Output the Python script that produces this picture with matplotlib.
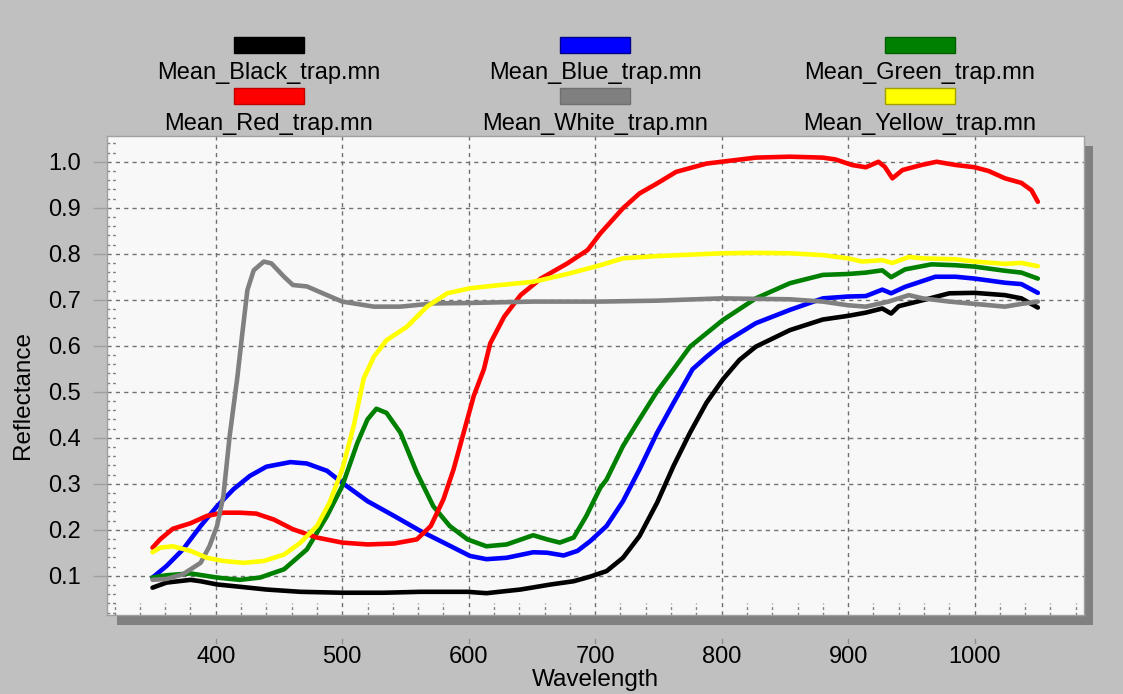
import matplotlib
matplotlib.use("Agg")
import matplotlib.pyplot as plt
from matplotlib.patches import Rectangle
from matplotlib.transforms import blended_transform_factory
import numpy as np

plt.rcParams['font.family'] = ['Liberation Sans', 'DejaVu Sans']

# ---------------- data ----------------
series_names = ["Mean_Black_trap.mn", "Mean_Blue_trap.mn", "Mean_Green_trap.mn",
                "Mean_Red_trap.mn", "Mean_White_trap.mn", "Mean_Yellow_trap.mn"]
series_colors = ["#000000", "#0000ff", "#008000", "#ff0000", "#808080", "#ffff00"]
swatch_edges = ["#000000", "#00008b", "#006000", "#c00000", "#707070", "#a0a000"]

black_wl = [350, 361, 380, 388, 401, 419, 440, 467, 500, 533, 562, 599, 614, 641, 665, 683, 696, 709,
            722, 735, 749, 762, 775, 788, 801, 814, 827, 854, 880, 900, 914, 927, 934, 940, 959, 980,
            1000, 1024, 1037, 1050]
black_r = [0.074, 0.085, 0.091, 0.088, 0.081, 0.076, 0.070, 0.065, 0.063, 0.063, 0.065, 0.065, 0.062,
           0.070, 0.081, 0.088, 0.098, 0.110, 0.139, 0.186, 0.259, 0.339, 0.411, 0.476, 0.527, 0.569,
           0.598, 0.634, 0.657, 0.665, 0.672, 0.681, 0.670, 0.686, 0.699, 0.714, 0.715, 0.710, 0.703,
           0.683]

blue_wl = [350, 361, 374, 388, 401, 414, 427, 440, 459, 472, 488, 500, 520, 541, 562, 583, 601, 614,
           630, 651, 662, 675, 686, 696, 709, 722, 735, 749, 762, 777, 788, 801, 827, 854, 880, 900,
           914, 927, 934, 945, 969, 985, 1000, 1024, 1037, 1050]
blue_r = [0.096, 0.121, 0.157, 0.208, 0.251, 0.288, 0.317, 0.337, 0.347, 0.344, 0.328, 0.302, 0.262,
          0.230, 0.197, 0.168, 0.143, 0.136, 0.139, 0.151, 0.150, 0.144, 0.154, 0.175, 0.208, 0.262,
          0.331, 0.411, 0.476, 0.549, 0.576, 0.605, 0.649, 0.678, 0.703, 0.707, 0.708, 0.722, 0.714,
          0.728, 0.750, 0.750, 0.746, 0.737, 0.734, 0.715]

green_wl = [350, 361, 380, 401, 419, 435, 454, 472, 488, 500, 512, 520, 527, 535, 546, 559, 572, 585,
            599, 614, 630, 651, 662, 672, 683, 693, 704, 709, 722, 735, 749, 762, 775, 801, 827, 854,
            880, 900, 914, 927, 934, 945, 966, 985, 1000, 1024, 1037, 1050]
green_r = [0.096, 0.101, 0.105, 0.096, 0.091, 0.096, 0.114, 0.157, 0.230, 0.295, 0.389, 0.440, 0.463,
           0.454, 0.411, 0.324, 0.251, 0.208, 0.179, 0.164, 0.168, 0.188, 0.179, 0.172, 0.183, 0.230,
           0.291, 0.309, 0.382, 0.440, 0.501, 0.549, 0.598, 0.656, 0.703, 0.736, 0.754, 0.756, 0.759,
           0.764, 0.749, 0.766, 0.777, 0.775, 0.772, 0.763, 0.759, 0.746]

red_wl = [350, 356, 366, 380, 393, 406, 419, 432, 446, 461, 480, 500, 520, 541, 559, 570, 580, 588,
          596, 604, 612, 617, 628, 641, 657, 678, 694, 704, 722, 735, 749, 764, 788, 800, 827, 854,
          880, 890, 903, 914, 924, 929, 935, 943, 958, 970, 985, 1000, 1011, 1024, 1037, 1045, 1050]
red_r = [0.161, 0.179, 0.202, 0.214, 0.230, 0.237, 0.237, 0.235, 0.222, 0.201, 0.183, 0.172, 0.168,
         0.170, 0.179, 0.208, 0.266, 0.331, 0.411, 0.491, 0.549, 0.605, 0.663, 0.710, 0.746, 0.779,
         0.808, 0.844, 0.899, 0.931, 0.953, 0.978, 0.996, 1.000, 1.009, 1.011, 1.009, 1.005, 0.993,
         0.988, 1.000, 0.989, 0.964, 0.982, 0.993, 1.000, 0.993, 0.988, 0.980, 0.964, 0.954, 0.938,
         0.913]

white_wl = [350, 361, 374, 388, 395, 401, 406, 411, 417, 421, 425, 430, 438, 444, 454, 461, 472, 488,
            500, 525, 546, 572, 601, 651, 704, 749, 800, 854, 880, 900, 914, 932, 948, 959, 980, 1000,
            1024, 1037, 1050]
white_r = [0.091, 0.093, 0.103, 0.128, 0.164, 0.208, 0.273, 0.404, 0.530, 0.627, 0.721, 0.764, 0.783,
           0.779, 0.750, 0.732, 0.729, 0.710, 0.696, 0.685, 0.685, 0.692, 0.693, 0.696, 0.696, 0.698,
           0.703, 0.701, 0.696, 0.688, 0.685, 0.696, 0.710, 0.703, 0.696, 0.691, 0.685, 0.691, 0.696]

yellow_wl = [350, 356, 366, 380, 393, 406, 422, 438, 454, 467, 480, 490, 500, 509, 517, 525, 535, 551,
             567, 583, 601, 625, 651, 678, 704, 722, 749, 775, 800, 827, 854, 880, 900, 911, 927, 935,
             948, 959, 985, 1000, 1024, 1037, 1050]
yellow_r = [0.151, 0.161, 0.164, 0.154, 0.139, 0.132, 0.128, 0.132, 0.146, 0.172, 0.208, 0.259, 0.331,
            0.425, 0.529, 0.576, 0.612, 0.641, 0.685, 0.714, 0.725, 0.732, 0.739, 0.756, 0.775, 0.790,
            0.795, 0.798, 0.801, 0.802, 0.801, 0.797, 0.790, 0.783, 0.786, 0.780, 0.793, 0.790, 0.788,
            0.783, 0.778, 0.780, 0.773]

x_ticks = [400, 500, 600, 700, 800, 900, 1000]
y_ticks = [0.1, 0.2, 0.3, 0.4, 0.5, 0.6, 0.7, 0.8, 0.9, 1.0]
x_label = "Wavelength"
y_label = "Reflectance"

all_wl = [black_wl, blue_wl, green_wl, red_wl, white_wl, yellow_wl]
all_r = [black_r, blue_r, green_r, red_r, white_r, yellow_r]

# ---------------- layout ----------------
W, H = 1123, 694
fig = plt.figure(figsize=(W / 100, H / 100), dpi=100)
fig.patch.set_facecolor("#c0c0c0")

def fx(px):
    return px / W

def fy(py):
    return 1 - py / H

L, R, T, B = 107, 1084, 136, 615
ax = fig.add_axes([fx(L), fy(B), fx(R) - fx(L), fy(T) - fy(B)])
ax.set_zorder(1)
ax.set_facecolor("#f8f8f8")

# drop shadow
fig.add_artist(Rectangle((fx(117), fy(625)), fx(1093) - fx(117), fy(146) - fy(625),
                         transform=fig.transFigure, facecolor="#808080", edgecolor="none", zorder=-1))

for wl, r, c in zip(all_wl, all_r, series_colors):
    ax.plot(wl, r, color=c, lw=3.3, solid_capstyle="round", solid_joinstyle="round", zorder=3)

ax.set_xlim(314, 1086.5)
ax.set_ylim(0.0146, 1.056)
ax.set_xticks(x_ticks)
ax.set_yticks(y_ticks)
ax.set_yticklabels([f"{v:.1f}" for v in y_ticks])
ax.grid(True, color="#707070", linestyle=(0, (3, 3)), linewidth=1.0, zorder=1)

for s in ax.spines.values():
    s.set_color("#a0a0a0")
    s.set_linewidth(1.0)

ax.tick_params(axis="x", length=0, pad=22, labelsize=17, colors="#000000")
ax.tick_params(axis="y", length=10, width=1, color="#a0a0a0", pad=9, labelsize=17)

# minor ticks drawn as short dashed lines inside
trans_x = blended_transform_factory(ax.transData, ax.transAxes)
minor_x = [v for v in range(320, 1081, 20) if v % 100 != 0]
ax.vlines(minor_x, 0, 12 / (B - T), transform=trans_x, colors="#808080",
          linestyles=(0, (2, 2)), linewidth=1.0, zorder=2)
trans_y = blended_transform_factory(ax.transAxes, ax.transData)
minor_y = [round(v, 2) for v in np.arange(0.02, 1.05, 0.02) if round(v * 100) % 10 != 0]
ax.hlines(minor_y, 0, 11 / (R - L), transform=trans_y, colors="#808080",
          linestyles=(0, (2, 2)), linewidth=1.0, zorder=2)

# small x major tick marks below the shadow
for v in x_ticks:
    ax.plot([v, v], [-28 / (B - T), -24 / (B - T)], transform=trans_x, color="#909090",
            lw=1, clip_on=False)

# axis titles
fig.text(fx(595), fy(686), x_label, ha="center", va="baseline", fontsize=17.5)
fig.text(fx(23), fy(395), y_label, ha="center", va="center", rotation=90, fontsize=17.5)

# legend (manual)
col_centers = [269, 595, 920]
rows = [(37, 79), (88, 130)]
for i, (name, c, ec) in enumerate(zip(series_names, series_colors, swatch_edges)):
    row, col = divmod(i, 3)
    cx = col_centers[col]
    sy, base = rows[row]
    fig.add_artist(Rectangle((fx(cx - 35), fy(sy + 16)), fx(70), 16 / H,
                             transform=fig.transFigure, facecolor=c, edgecolor=ec, lw=1))
    fig.text(fx(cx), fy(base), name, ha="center", va="baseline", fontsize=17)

fig.savefig("out.png", dpi=100, facecolor=fig.get_facecolor())
